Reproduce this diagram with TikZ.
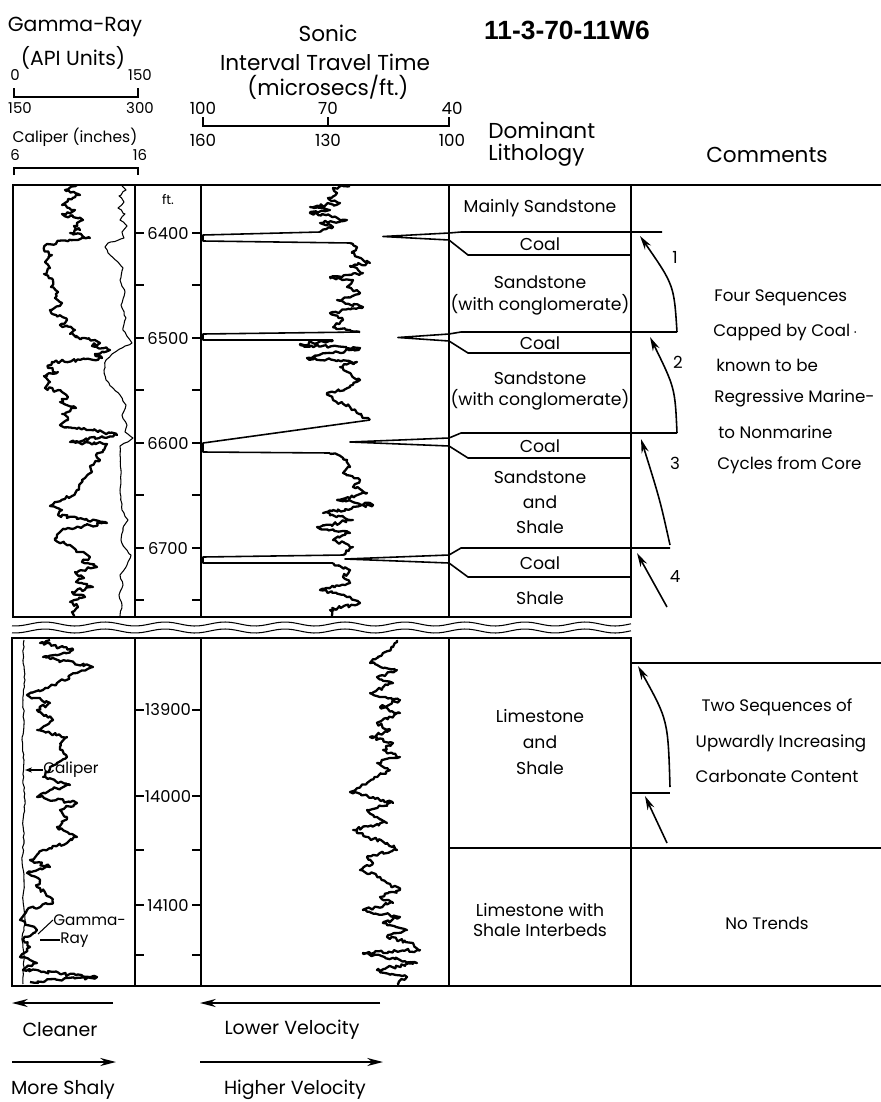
\documentclass[tikz,border=0pt]{standalone}
\usepackage{fontspec}
\setmainfont{Poppins}
\newfontfamily\titlefont{Liberation Sans}
\usetikzlibrary{arrows.meta,decorations.pathmorphing}
\begin{document}
\begin{tikzpicture}[x=0.02cm,y=-0.02cm,
  frame/.style={line width=0.9pt},
  thin/.style={line width=0.6pt},
  logc/.style={line width=1.3pt,line join=round,decorate,decoration={random steps,segment length=1.5pt,amplitude=1.0pt}},
  calc/.style={line width=0.6pt,line join=round,decorate,decoration={random steps,segment length=2pt,amplitude=0.4pt}},
  spike/.style={line width=0.9pt,line join=round},
  hdr/.style={font=\fontsize{12.3}{14}\selectfont,inner sep=0pt},
  num/.style={font=\fontsize{8.5}{10}\selectfont,inner sep=0pt},
  dep/.style={font=\fontsize{9.3}{11}\selectfont,inner sep=0pt},
  lith/.style={font=\fontsize{9.8}{11}\selectfont,inner sep=0pt},
  com/.style={font=\fontsize{9.5}{11}\selectfont,inner sep=0pt},
  bot/.style={font=\fontsize{10.8}{12}\selectfont,inner sep=0pt},
  seqarrow/.style={line width=0.9pt,-{Stealth[length=8pt,width=4.2pt]}},
  dirarrow/.style={line width=0.9pt,-{Stealth[length=9pt,width=4.6pt]}}]
\pgfmathsetseed{7}
\fill[white] (0,0) rectangle (881,1102);
\useasboundingbox (0,0) rectangle (881,1102);

% ---------------- header ----------------
\node[hdr,font=\fontsize{11.6}{14}\selectfont] (grt1) at (75,27) {Gamma-Ray};
\node[hdr,font=\fontsize{11.6}{14}\selectfont] (grt2) at (73,58) {(API Units)};
\node[num] (gr0) at (15,75) {0};
\node[num] (gr150a) at (140,75) {150};
\draw[thin] (14,88) -- (14,97) -- (138,97) -- (138,88);
\node[num] (gr150b) at (20,108) {150};
\node[num] (gr300) at (140,108) {300};
\node[num,font=\fontsize{8.8}{10}\selectfont] (calt) at (75,137) {Caliper (inches)};
\node[num] (cal6) at (15,155) {6};
\node[num] (cal16) at (140,155) {16};
\draw[thin] (14,175) -- (14,168) -- (138,168) -- (138,175);

\node[hdr] (son1) at (328,33) {Sonic};
\node[hdr] (son2) at (325,62) {Interval Travel Time};
\node[hdr] (son3) at (328,87) {(microsecs/ft.)};
\node[num,font=\fontsize{9.5}{11}\selectfont] (s100) at (203,108) {100};
\node[num,font=\fontsize{9.5}{11}\selectfont] (s70) at (328,108) {70};
\node[num,font=\fontsize{9.5}{11}\selectfont] (s40) at (452,108) {40};
\draw[thin] (203,117) -- (203,126) -- (449,126) -- (449,117);
\draw[thin] (328,117) -- (328,126);
\node[num,font=\fontsize{9.5}{11}\selectfont] (s160) at (203,140) {160};
\node[num,font=\fontsize{9.5}{11}\selectfont] (s130) at (328,140) {130};
\node[num,font=\fontsize{9.5}{11}\selectfont] (s100b) at (452,140) {100};

\node[font=\titlefont\bfseries\fontsize{15}{17}\selectfont,inner sep=0pt] (title) at (567,30) {11-3-70-11W6};
\node[hdr,anchor=west] (dom1) at (488,130) {Dominant};
\node[hdr,anchor=west] (dom2) at (488,155) {Lithology};
\node[hdr] (comm) at (767,155) {Comments};

% ---------------- upper block frame ----------------
\draw[frame] (13,185) rectangle (631,617);
\draw[frame] (631,185) -- (881,185);
\foreach \xx in {135,201,449} \draw[frame] (\xx,185) -- (\xx,617);
\node[num,font=\fontsize{7.5}{9}\selectfont] (ft) at (168,200) {ft.};
\foreach \d/\yy in {6400/233,6500/338,6600/443,6700/548} {
  \draw[frame] (135,\yy) -- (144,\yy) (192,\yy) -- (201,\yy);
  \node[dep] at (168,\yy) {\d};
}
\foreach \yy in {285,390,495,600} \draw[frame] (135,\yy) -- (144,\yy) (192,\yy) -- (201,\yy);

% gamma ray upper
\draw[logc] plot coordinates {(77,185) (65,190) (80,195) (68,199) (62,205) (75,210) (62,214) (83,220) (74,226) (80,230) (70,233) (90,238) (47,244) (44,250) (52,255) (45,262) (50,268) (44,274) (53,280) (51,287) (58,292) (55,298) (62,303) (50,310) (56,315) (67,320) (60,325) (75,330) (70,334) (82,338) (95,340) (100,343) (92,346) (110,350) (95,354) (102,358) (52,362) (48,368) (58,372) (44,376) (50,382) (45,388) (62,392) (68,397) (60,402) (76,408) (62,414) (68,420) (60,425) (72,428) (110,433) (117,435) (70,442) (107,444) (103,450) (96,455) (100,460) (90,466) (92,472) (85,478) (80,484) (77,490) (72,496) (55,502) (50,506) (62,510) (58,515) (107,523) (68,528) (60,532) (55,540) (70,545) (76,550) (90,557) (82,562) (97,567) (75,572) (84,578) (76,582) (93,587) (72,592) (85,597) (70,602) (78,607) (72,612) (74,616)};
% caliper upper
\draw[calc] plot coordinates {(122,186) (126,190) (119,196) (124,202) (118,208) (125,214) (120,220) (127,226) (122,232) (124,238) (108,243) (105,247) (110,255) (118,262) (123,268) (120,280) (125,292) (121,305) (126,318) (123,330) (130,340) (132,343) (122,348) (112,354) (106,360) (104,370) (106,380) (113,388) (120,395) (126,405) (122,415) (127,425) (125,432) (133,438) (120,446) (120,455) (121,470) (120,490) (122,510) (128,520) (123,528) (121,540) (125,548) (131,555) (127,565) (120,575) (123,585) (119,595) (122,605) (120,616)};

% sonic upper
\draw[logc] plot coordinates {(350,186) (333,188) (337,193) (328,198) (340,203) (310,207) (330,210) (310,213) (333,217) (347,220) (320,223) (333,227) (320,232)};
\draw[spike] (320,232) -- (203,235) -- (203,241) -- (350,243);
\draw[logc] plot coordinates {(350,243) (357,247) (352,253) (370,263) (350,266) (363,273) (330,277) (353,280) (347,287) (360,293) (337,300) (363,307) (330,313) (343,320) (333,327) (360,332)};
\draw[spike] (360,332) -- (203,334) -- (203,340) -- (333,340);
\draw[logc] plot coordinates {(333,340) (300,345) (360,348) (333,353) (307,358) (357,362) (340,367) (350,373) (360,380) (350,387) (327,393) (333,400) (350,407) (357,413) (370,420)};
\draw[spike] (370,420) -- (203,443) -- (203,452) -- (330,453);
\draw[logc] plot coordinates {(330,453) (347,460) (350,467) (343,473) (360,480) (353,487) (367,493) (337,500) (373,505) (323,513) (353,520) (317,527) (350,533) (333,540) (353,547) (343,555)};
\draw[spike] (343,555) -- (203,557) -- (203,563) -- (333,563);
\draw[logc] plot coordinates {(333,563) (350,570) (343,577) (350,583) (320,590) (347,597) (360,603) (330,610) (333,616)};

% wrap-around wedges and coal beds
\foreach \yt/\yb/\tip/\ct/\cb/\xe in {233/240/383/232/255/662, 334/341/398/332/353/677, 438/446/350/433/458/677, 555/563/345/548/577/670} {
  \draw[spike] (449,\yt) -- (\tip,{(\yt+\yb)/2}) -- (449,\yb);
  \draw[frame] (449,\yt) -- (461,\ct) -- (\xe,\ct);
  \draw[frame] (449,\yb) -- (468,\cb) -- (631,\cb);
}

% lithology upper
\node[lith] (l1) at (540,208) {Mainly Sandstone};
\node[lith] (c1) at (540,244) {Coal};
\node[lith] (l2a) at (540,282) {Sandstone};
\node[lith] (l2b) at (540,305) {(with conglomerate)};
\node[lith] (c2) at (540,343) {Coal};
\node[lith] (l3a) at (540,378) {Sandstone};
\node[lith] (l3b) at (540,400) {(with conglomerate)};
\node[lith] (c3) at (540,446) {Coal};
\node[lith] (l4a) at (540,477) {Sandstone};
\node[lith] (l4b) at (540,502) {and};
\node[lith] (l4c) at (540,527) {Shale};
\node[lith] (c4) at (540,563) {Coal};
\node[lith] (l5) at (540,598) {Shale};

% sequence arrows upper
\coordinate (a1s) at (677,332); \coordinate (a1e) at (640,236);
\coordinate (a2s) at (677,433); \coordinate (a2e) at (650,337);
\coordinate (a3s) at (670,545); \coordinate (a3e) at (641,439);
\coordinate (a4s) at (667,607); \coordinate (a4e) at (637,553);
\draw[seqarrow] (a1s) .. controls (674,285) .. (a1e);
\draw[seqarrow] (a2s) .. controls (675,388) .. (a2e);
\draw[seqarrow] (a3s) .. controls (660,500) .. (a3e);
\draw[seqarrow] (a4s) -- (a4e);
\node[com] (n1) at (675,257) {1};
\node[com] (n2) at (678,362) {2};
\node[com] (n3) at (675,463) {3};
\node[com] (n4) at (675,577) {4};
\node[com,anchor=west] (t1) at (714,298) {Four Sequences};
\node[com,anchor=west] (t2) at (713,332) {Capped by Coal\,$\cdot$};
\node[com,anchor=west] (t3) at (716,365) {known to be};
\node[com,anchor=west] (t4) at (714,398) {Regressive Marine-};
\node[com,anchor=west] (t5) at (718,432) {to Nonmarine};
\node[com,anchor=west] (t6) at (717,465) {Cycles from Core};

% ---------------- break ----------------
\draw[thin] plot[domain=12:631,samples=120] (\x,{624+2*sin(\x*6)});
\draw[thin] plot[domain=12:631,samples=120] (\x,{631+2*sin(\x*6)});

% ---------------- lower block ----------------
\draw[frame] (12,638) rectangle (631,986);
\foreach \xx in {135,201,449} \draw[frame] (\xx,638) -- (\xx,986);
\draw[frame] (631,663) -- (881,663);
\draw[frame] (449,848) -- (881,848);
\draw[frame] (631,986) -- (881,986);
\foreach \d/\yy in {13900/710,14000/796,14100/905} {
  \draw[frame] (135,\yy) -- (144,\yy) (192,\yy) -- (201,\yy);
  \node[dep] at (168,\yy) {\d};
}
\foreach \yy in {850,955} \draw[frame] (135,\yy) -- (144,\yy) (192,\yy) -- (201,\yy);

\draw[calc] plot coordinates {(24,640) (23,660) (25,680) (23,700) (24,720) (22,740) (24,760) (23,780) (25,800) (23,820) (24,840) (22,860) (24,880) (23,900) (25,920) (22,940) (24,960) (23,984)};
\draw[logc] plot coordinates {(50,640) (40,643) (73,650) (43,657) (93,667) (77,673) (57,683) (43,690) (27,695) (50,703) (37,710) (53,720) (37,730) (67,737) (60,747) (67,757) (50,767) (43,777) (70,785) (50,790) (37,797) (77,803) (60,810) (67,817) (57,827) (77,837) (67,843) (43,850) (30,860) (50,867) (27,873) (40,880) (37,887) (50,897) (53,903) (27,910) (20,920) (37,930) (23,940) (30,947) (20,957) (37,963) (23,970) (97,977) (30,982)};
\draw[logc] plot coordinates {(397,640) (393,647) (383,653) (370,663) (397,670) (377,677) (393,683) (370,693) (400,700) (380,707) (400,713) (377,723) (390,730) (370,737) (393,743) (383,750) (400,757) (377,763) (390,770) (377,777) (367,783) (350,792) (373,797) (393,803) (367,810) (377,817) (387,823) (353,830) (367,837) (387,843) (397,850) (367,857) (373,863) (360,870) (380,877) (387,883) (400,890) (380,897) (393,903) (363,910) (400,917) (383,923) (407,930) (387,937) (413,943) (420,950) (363,953) (400,960) (417,963) (377,970) (407,977) (397,984)};

\node[num,font=\fontsize{8.7}{10}\selectfont,anchor=west] (callbl) at (43,770) {Caliper};
\coordinate (calpt) at (25,770);
\draw[thin,-{Stealth[length=4pt,width=3pt]}] (callbl.west) -- (calpt);
\node[num,font=\fontsize{8.7}{10}\selectfont,anchor=west] (grl1) at (53,920) {Gamma-};
\node[num,font=\fontsize{8.7}{10}\selectfont,anchor=west] (grl2) at (60,940) {Ray};
\coordinate (grpt1) at (38,934);
\coordinate (grpt2) at (40,940);
\draw[thin] (grl1.west) -- (grpt1);
\draw[thin] (grl2.west) -- (grpt2);

\node[lith] (m1) at (540,716) {Limestone};
\node[lith] (m2) at (540,742) {and};
\node[lith] (m3) at (540,768) {Shale};
\node[lith] (m4) at (540,910) {Limestone with};
\node[lith] (m5) at (540,930) {Shale Interbeds};

\coordinate (b1s) at (670,787); \coordinate (b1e) at (638,666);
\coordinate (b2s) at (667,843); \coordinate (b2e) at (645,796);
\draw[frame] (631,793) -- (670,793);
\draw[seqarrow] (b1s) .. controls (668,720) .. (b1e);
\draw[seqarrow] (b2s) -- (b2e);
\node[com] (u1) at (777,707) {Two Sequences of};
\node[com] (u2) at (781,743) {Upwardly Increasing};
\node[com] (u3) at (777,776) {Carbonate Content};
\node[com] (u4) at (767,923) {No Trends};

% ---------------- bottom legends ----------------
\coordinate (ca) at (113,1003); \coordinate (cb) at (12,1003);
\coordinate (ma) at (12,1062); \coordinate (mb) at (116,1062);
\coordinate (la) at (380,1003); \coordinate (lb) at (200,1003);
\coordinate (ha) at (200,1062); \coordinate (hb) at (383,1062);
\draw[dirarrow] (ca) -- (cb);
\draw[dirarrow] (ma) -- (mb);
\draw[dirarrow] (la) -- (lb);
\draw[dirarrow] (ha) -- (hb);
\node[bot] (clean) at (60,1030) {Cleaner};
\node[bot] (shaly) at (63,1090) {More Shaly};
\node[bot] (lowv) at (292,1030) {Lower Velocity};
\node[bot] (highv) at (295,1090) {Higher Velocity};
\end{tikzpicture}
\end{document}
